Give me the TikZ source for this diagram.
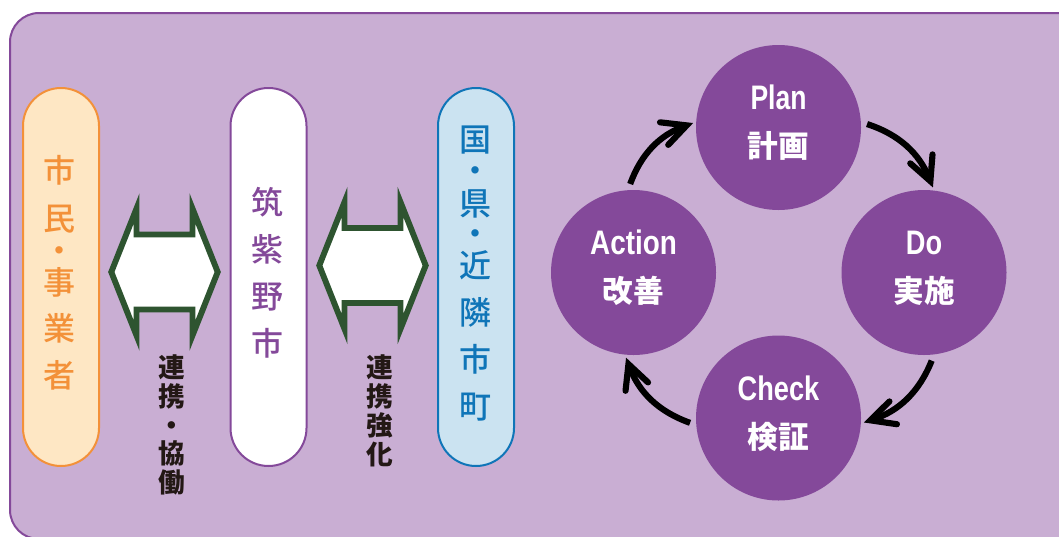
\documentclass[tikz,border=0pt]{standalone}
\usepackage{graphicx}
\usepackage{fontspec}
\setmainfont{Noto Sans CJK JP}
\newfontfamily\jpmed{Noto Sans CJK JP Medium}
\newfontfamily\latinfont{Liberation Sans}
\usetikzlibrary{arrows.meta}
\definecolor{panelfill}{HTML}{C9AED3}
\definecolor{purp}{HTML}{84499A}
\definecolor{orng}{HTML}{F39139}
\definecolor{orngfill}{HTML}{FEE7C4}
\definecolor{blu}{HTML}{0F75B8}
\definecolor{blufill}{HTML}{CBE3F1}
\definecolor{grn}{HTML}{2E5430}
\definecolor{ink}{HTML}{231815}
\newcommand{\ltn}[2]{\scalebox{#1}[1]{\latinfont\fontsize{25.5}{30}\selectfont #2}}
\newcommand{\vfont}[2]{\fontsize{#1}{#2}\selectfont\lineskiplimit=-100pt\relax}
\tikzset{
  x=0.75pt,y=-0.75pt,
  pill/.style={rectangle,rounded corners=28.5pt,minimum width=57pt,minimum height=283.5pt,line width=1.5pt,inner sep=0pt},
  disc/.style={circle,fill=purp,minimum size=123.75pt,inner sep=0pt,outer sep=2.25pt},
  vtext/.style={align=center,inner sep=0pt},
  disccap/.style={align=center,inner sep=0pt,text=white,font=\fontsize{23}{36}\selectfont\bfseries},
  flow/.style={line width=4.6pt,-{Straight Barb[length=18pt,width=18pt,line width=4.6pt,line cap=round]},shorten <=2.5pt,bend left=25},
  pics/dblarrow/.style={code={
    \draw[grn,fill=white,line width=4.4pt,miter limit=12]
      (111.3,272) -- (136.5,208.6) -- (136.5,234.5) -- (192.5,234.5) -- (192.5,208.6)
      -- (217.7,272) -- (192.5,335.4) -- (192.5,309.5) -- (136.5,309.5) -- (136.5,335.4) -- cycle;
  }}
}
\begin{document}
\begin{tikzpicture}
\useasboundingbox (0,0) rectangle (1059,536);
\clip (0,0) rectangle (1059,536);
\fill[white] (0,0) rectangle (1059,536);
\draw[purp,fill=panelfill,line width=1.5pt,rounded corners=21.75pt] (10,13) rectangle (1100,539);

\node[pill,draw=orng,fill=orngfill] (citizen) at (61,277) {};
\node[pill,draw=purp,fill=white] (city) at (268.5,277) {};
\node[pill,draw=blu,fill=blufill] (nation) at (476,277) {};

\node[vtext,text=orng,font=\jpmed\vfont{24}{35.2}] (citizenT) at (59,272.5) {市\\[0.8pt]民\\[-11.2pt]・\\[-11.2pt]事\\[-0.7pt]業\\者};
\node[vtext,text=purp,font=\jpmed\vfont{24}{35.2}] (cityT) at (267,273) {筑\\紫\\野\\市};
\node[vtext,text=blu,font=\jpmed\vfont{24}{35.2}] (nationT) at (475,273.5) {国\\[-12pt]・\\[-10.5pt]県\\[-12pt]・\\[-11.2pt]近\\隣\\市\\町};

\pic at (0,0) {dblarrow};
\pic at (208,-6.5) {dblarrow};

\node[vtext,text=ink,font=\vfont{20}{21.6}\bfseries] (linkA) at (172,425) {連\\携\\・\\協\\働};
\node[vtext,text=ink,font=\vfont{20}{21.6}\bfseries] (linkB) at (380,411) {連\\携\\強\\化};

\node[disc] (plan) at (778.5,127.5) {};
\node[disc] (do) at (924,272.5) {};
\node[disc] (check) at (778.5,418) {};
\node[disc] (action) at (633.5,272.5) {};

\node[disccap] (planT) at (778.5,123) {\ltn{0.78}{Plan}\\計画};
\node[disccap] (doT) at (924,268) {\ltn{0.8}{Do}\\実施};
\node[disccap] (checkT) at (778.5,413.5) {\ltn{0.8}{Check}\\検証};
\node[disccap] (actionT) at (633.5,268) {\ltn{0.82}{Action}\\改善};

\draw[flow] (action.93.6) to (plan.177);
\draw[flow] (plan.3.5) to (do.84.6);
\draw[flow] (do.-84.3) to (check.-3.9);
\draw[flow] (check.184.6) to (action.265);
\end{tikzpicture}
\end{document}
